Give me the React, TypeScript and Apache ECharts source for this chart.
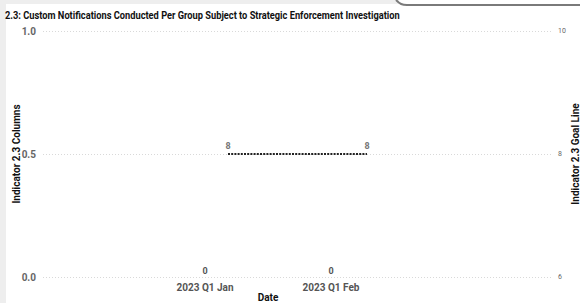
import React, { useEffect, useRef } from "react";
import * as echarts from "echarts";

const TITLE = "2.3: Custom Notifications Conducted Per Group Subject to Strategic Enforcement Investigation";
const categories = ["2023 Q1 Jan", "2023 Q1 Feb"];
const columnValues = [0, 0];
const goalLineValues = [8, 8];
const leftAxisName = "Indicator 2.3 Columns";
const rightAxisName = "Indicator 2.3 Goal Line";
const xAxisName = "Date";

const FONT = "Roboto, 'Noto Sans', sans-serif";
const TITLE_FONT = "bold 11.5px Roboto";

export default function App() {
  const ref = useRef<HTMLDivElement>(null);
  useEffect(() => {
    document.body.style.margin = "0";
    const chart = echarts.init(ref.current!, undefined, { renderer: "svg" });
    let scaleX = 1;
    try {
      const c = document.createElement("canvas").getContext("2d")!;
      c.font = TITLE_FONT;
      const w = c.measureText(TITLE).width;
      if (w > 0) scaleX = 395 / w;
    } catch (e) {}

    const axisLabelGray = "#666";
    const gridCommon = { top: 31, bottom: 26, outerBoundsMode: "none", containLabel: false };
    chart.setOption({
      animation: false,
      backgroundColor: "#ffffff",
      textStyle: { fontFamily: FONT },
      graphic: [
        { type: "rect", shape: { x: 0, y: 0, width: 6, height: 303 }, style: { fill: "#eeeeee" }, silent: true },
        { type: "rect", shape: { x: 0, y: 0, width: 399, height: 4 }, style: { fill: "#eeeeee" }, silent: true },
        {
          type: "bezierCurve",
          shape: { x1: 396, y1: 0, x2: 407, y2: 5, cpx1: 400, cpy1: 4, cpx2: 402, cpy2: 5 },
          style: { stroke: "#7a7a7a", lineWidth: 2, fill: "none" },
          silent: true,
        },
        { type: "line", shape: { x1: 406, y1: 5, x2: 580, y2: 5 }, style: { stroke: "#7a7a7a", lineWidth: 2 }, silent: true },
        {
          type: "text",
          x: 5,
          y: 15,
          scaleX: scaleX,
          style: {
            text: TITLE,
            font: TITLE_FONT,
            fill: "#111",
            verticalAlign: "middle",
          },
          silent: true,
        },
      ],
      grid: [
        { left: 43, right: 28, ...gridCommon },
        { left: 142, width: 252, ...gridCommon },
        { left: 158.5, width: 278, ...gridCommon },
      ],
      xAxis: [
        { type: "category", gridIndex: 0, data: categories, show: false },
        {
          type: "category",
          gridIndex: 1,
          data: categories,
          axisLine: { show: false },
          axisTick: { show: false },
          axisLabel: { color: "#555", fontWeight: "bold", fontSize: 10, margin: 5, fontFamily: FONT },
          name: xAxisName,
          nameLocation: "middle",
          nameGap: 15,
          nameMoveOverlap: false,
          nameTextStyle: { color: "#111", fontWeight: "bold", fontSize: 10, fontFamily: FONT },
        },
        { type: "category", gridIndex: 2, data: categories, show: false },
      ],
      yAxis: [
        {
          type: "value",
          gridIndex: 0,
          position: "left",
          min: 0,
          max: 1,
          interval: 0.5,
          axisLine: { show: false },
          axisTick: { show: false },
          axisLabel: {
            color: axisLabelGray,
            fontWeight: "bold",
            fontSize: 10,
            margin: 7,
            formatter: (v: number) => v.toFixed(1),
          },
          splitLine: { show: true, lineStyle: { color: "#d9d9d9", type: [1, 2], width: 1 } },
          name: leftAxisName,
          nameLocation: "middle",
          nameRotate: 90,
          nameGap: 22,
          nameMoveOverlap: false,
          nameTextStyle: { color: "#111", fontWeight: "bold", fontSize: 10, fontFamily: FONT },
        },
        {
          type: "value",
          gridIndex: 0,
          position: "right",
          min: 6,
          max: 10,
          interval: 2,
          axisLine: { show: false },
          axisTick: { show: false },
          splitLine: { show: false },
          axisLabel: { color: axisLabelGray, fontSize: 7, margin: 6 },
          name: rightAxisName,
          nameLocation: "middle",
          nameRotate: 90,
          nameGap: 18,
          nameMoveOverlap: false,
          nameTextStyle: { color: "#111", fontWeight: "bold", fontSize: 10, fontFamily: FONT },
        },
        { type: "value", gridIndex: 1, min: 0, max: 1, show: false },
        { type: "value", gridIndex: 2, min: 6, max: 10, show: false },
      ],
      series: [
        {
          name: leftAxisName,
          type: "bar",
          xAxisIndex: 1,
          yAxisIndex: 2,
          data: columnValues,
          barWidth: "60%",
          itemStyle: { color: "#118dff" },
          label: { show: true, position: "top", distance: 2, color: "#555", fontSize: 9, fontWeight: "bold" },
        },
        {
          name: rightAxisName,
          type: "line",
          xAxisIndex: 2,
          yAxisIndex: 3,
          data: goalLineValues,
          symbol: "circle",
          symbolSize: 0,
          showSymbol: true,
          itemStyle: { color: "#222" },
          lineStyle: { color: "#222", width: 2, type: [2, 1.2] },
          label: { show: true, position: "top", distance: 4, color: "#777", fontSize: 9, fontWeight: "bold" },
        },
      ],
    });
    return () => chart.dispose();
  }, []);
  return <div ref={ref} style={{ width: 580, height: 303 }} />;
}
